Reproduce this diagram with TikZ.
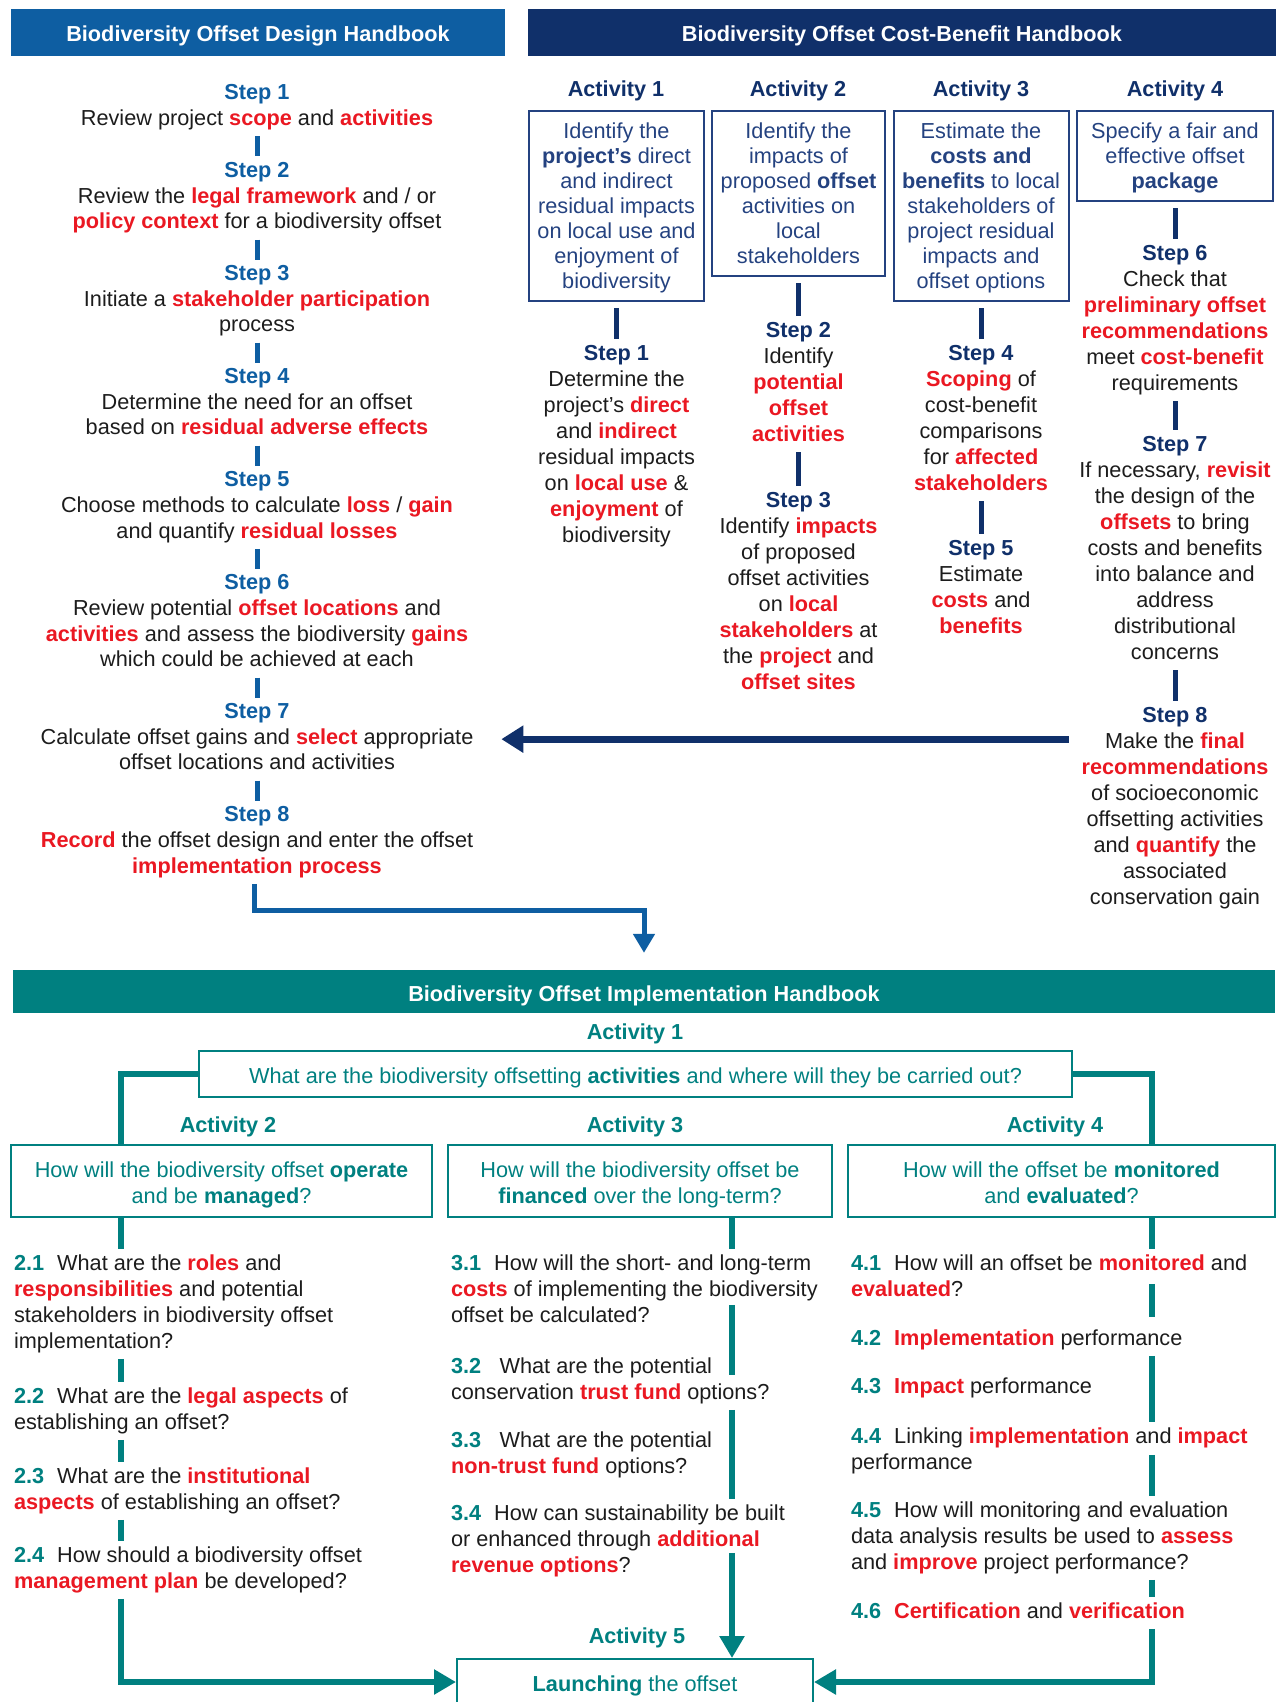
\documentclass[tikz,border=0pt]{standalone}
\usepackage{fontspec}
\setmainfont{Liberation Sans}
\usetikzlibrary{positioning,arrows.meta,calc}

\definecolor{designblue}{RGB}{14,94,162}
\definecolor{cbnavy}{RGB}{16,48,106}
\definecolor{cbtext}{RGB}{36,66,128}
\definecolor{keyred}{RGB}{234,24,34}
\definecolor{impteal}{RGB}{0,128,128}
\definecolor{ink}{RGB}{28,28,28}

\newcommand{\kw}[1]{\textcolor{keyred}{\bfseries #1}}
\newcommand{\dstep}[1]{\strut\textcolor{designblue}{\bfseries Step #1}}
\newcommand{\cstep}[1]{\strut\textcolor{cbnavy}{\bfseries Step #1}}
\newcommand{\qno}[1]{\strut\textcolor{impteal}{\bfseries #1}\hspace{0.6em}}
\newcommand{\cbtop}{\rule{0pt}{21.5pt}}
\newcommand{\impltop}{\rule{0pt}{25.8pt}}

\begin{document}
\begin{tikzpicture}[
	x=1pt, y=-1pt,
	header/.style={
		shape=rectangle,
		text=white,
		font=\bfseries\fontsize{21.7}{26}\selectfont,
		minimum height=47,
		text height=19pt,
		text depth=0pt,
		inner sep=0pt,
	},
	designstep/.style={
		align=center,
		text=ink,
		font=\fontsize{21.7}{25.7}\selectfont,
		inner sep=0pt,
		outer sep=3pt,
		execute at end node=\strut,
	},
	cblabel/.style={
		anchor=base,
		text=cbnavy,
		font=\bfseries\fontsize{21.7}{26}\selectfont,
	},
	cbbox/.style={
		shape=rectangle,
		draw=cbtext,
		line width=2pt,
		align=center,
		text=cbtext,
		font=\fontsize{21.7}{25}\selectfont,
		inner xsep=3pt,
		inner ysep=5.5pt,
		outer sep=7pt,
		anchor=north,
		execute at end node=\strut,
	},
	cbstep/.style={
		designstep,
		font=\fontsize{21.7}{26}\selectfont,
	},
	implabel/.style={
		anchor=base,
		text=impteal,
		font=\bfseries\fontsize{21.7}{26}\selectfont,
	},
	implbox/.style={
		shape=rectangle,
		draw=impteal,
		line width=2pt,
		align=center,
		text=impteal,
		font=\fontsize{21.7}{26}\selectfont,
		execute at end node=\strut,
	},
	implitem/.style={
		anchor=north west,
		align=left,
		text=ink,
		font=\fontsize{21.7}{26}\selectfont,
		inner sep=0pt,
		outer sep=3pt,
		execute at end node=\strut,
	},
	designbar/.style={designblue, line width=5pt},
	cbbar/.style={cbnavy, line width=5pt},
	implline/.style={impteal, line width=6pt},
	designarrow/.style={designblue, line width=5pt, -{Triangle[length=19pt,width=21pt]}},
	cbarrow/.style={cbnavy, line width=7pt, -{Triangle[length=22pt,width=26pt]}},
	implarrow/.style={impteal, line width=6pt, -{Triangle[length=22pt,width=24pt]}},
	node distance=20pt,
]
\useasboundingbox (0,0) rectangle (1278,1702);

% design handbook
\node (dhead) [header, fill=designblue, minimum width=494] at (258,32.5) {Biodiversity Offset Design Handbook};
\node (ds1) [designstep, anchor=north] at (257,79) {\dstep{1}\\Review project \kw{scope} and \kw{activities}};
\node (ds2) [designstep, below=of ds1] {\dstep{2}\\Review the \kw{legal framework} and / or\\\kw{policy context} for a biodiversity offset};
\node (ds3) [designstep, below=of ds2] {\dstep{3}\\Initiate a \kw{stakeholder participation}\\process};
\node (ds4) [designstep, below=of ds3] {\dstep{4}\\Determine the need for an offset\\based on \kw{residual adverse effects}};
\node (ds5) [designstep, below=of ds4] {\dstep{5}\\Choose methods to calculate \kw{loss} / \kw{gain}\\and quantify \kw{residual losses}};
\node (ds6) [designstep, below=of ds5] {\dstep{6}\\Review potential \kw{offset locations} and\\\kw{activities} and assess the biodiversity \kw{gains}\\which could be achieved at each};
\node (ds7) [designstep, below=of ds6] {\dstep{7}\\Calculate offset gains and \kw{select} appropriate\\offset locations and activities};
\node (ds8) [designstep, below=of ds7] {\dstep{8}\\\kw{Record} the offset design and enter the offset\\\kw{implementation process}};

\draw[designbar] (ds1) -- (ds2);
\draw[designbar] (ds2) -- (ds3);
\draw[designbar] (ds3) -- (ds4);
\draw[designbar] (ds4) -- (ds5);
\draw[designbar] (ds5) -- (ds6);
\draw[designbar] (ds6) -- (ds7);
\draw[designbar] (ds7) -- (ds8);

% cost-benefit handbook
\node (chead) [header, fill=cbnavy, minimum width=748] at (902,32.5) {Biodiversity Offset Cost-Benefit Handbook};
\node (cl1) [cblabel] at (616,96) {Activity 1};
\node (cl2) [cblabel] at (798,96) {Activity 2};
\node (cl3) [cblabel] at (981,96) {Activity 3};
\node (cl4) [cblabel] at (1175,96) {Activity 4};

\node (ca1) [cbbox, minimum width=175] at (616.5,104) {\cbtop Identify the\\\textbf{project's} direct\\and indirect\\residual impacts\\on local use and\\enjoyment of\\biodiversity};
\node (ca2) [cbbox, minimum width=173] at (798.5,104) {\cbtop Identify the\\impacts of\\proposed \textbf{offset}\\activities on\\local\\stakeholders};
\node (ca3) [cbbox, minimum width=175] at (981,104) {\cbtop Estimate the\\\textbf{costs and}\\\textbf{benefits} to local\\stakeholders of\\project residual\\impacts and\\offset options};
\node (ca4) [cbbox, minimum width=196] at (1175,104) {\cbtop Specify a fair and\\effective offset\\\textbf{package}};

\begin{scope}[node distance=31pt]
\node (cs1) [cbstep, below=of ca1] {\cstep{1}\\Determine the\\project's \kw{direct}\\and \kw{indirect}\\residual impacts\\on \kw{local use} \&\\\kw{enjoyment} of\\biodiversity};
\node (cs2) [cbstep, below=33pt of ca2] {\cstep{2}\\Identify\\\kw{potential}\\\kw{offset}\\\kw{activities}};
\node (cs3) [cbstep, below=34pt of cs2] {\cstep{3}\\Identify \kw{impacts}\\of proposed\\offset activities\\on \kw{local}\\\kw{stakeholders} at\\the \kw{project} and\\\kw{offset sites}};
\node (cs4) [cbstep, below=of ca3] {\cstep{4}\\\kw{Scoping} of\\cost-benefit\\comparisons\\for \kw{affected}\\\kw{stakeholders}};
\node (cs5) [cbstep, below=33pt of cs4] {\cstep{5}\\Estimate\\\kw{costs} and\\\kw{benefits}};
\node (cs6) [cbstep, below=of ca4] {\cstep{6}\\Check that\\\kw{preliminary offset}\\\kw{recommendations}\\meet \kw{cost-benefit}\\requirements};
\node (cs7) [cbstep, below=29pt of cs6] {\cstep{7}\\If necessary, \kw{revisit}\\the design of the\\\kw{offsets} to bring\\costs and benefits\\into balance and\\address\\distributional\\concerns};
\node (cs8) [cbstep, below=of cs7] {\cstep{8}\\Make the \kw{final}\\\kw{recommendations}\\of socioeconomic\\offsetting activities\\and \kw{quantify} the\\associated\\conservation gain};
\end{scope}

\draw[cbbar] (ca1) -- (cs1);
\draw[cbbar] (ca2) -- (cs2);
\draw[cbbar] (cs2) -- (cs3);
\draw[cbbar] (ca3) -- (cs4);
\draw[cbbar] (cs4) -- (cs5);
\draw[cbbar] (ca4) -- (cs6);
\draw[cbbar] (cs6) -- (cs7);
\draw[cbbar] (cs7) -- (cs8);

\draw[cbarrow, shorten >=25pt] ($(cs8.west |- ds7.east)+(-10,0)$) -- (ds7.east);

% implementation handbook
\node (ihead) [header, fill=impteal, minimum width=1262, minimum height=43] at (644,991.5) {Biodiversity Offset Implementation Handbook};
\draw[designarrow, shorten >=17pt] ($(ds8.south)+(-3,0)$) -- ++(0,27) -| (ihead.north);

\node (il1) [implabel] at (635,1039) {Activity 1};
\node (ia1) [implbox, minimum width=873, minimum height=46] at (635.5,1074) {\impltop What are the biodiversity offsetting \textbf{activities} and where will they be carried out?};
\node (il2) [implabel] at (228,1132) {Activity 2};
\node (il3) [implabel] at (635,1132) {Activity 3};
\node (il4) [implabel] at (1055,1132) {Activity 4};
\node (ia2) [implbox, minimum width=421, minimum height=72] at (221.5,1181) {\impltop How will the biodiversity offset \textbf{operate}\\and be \textbf{managed}?};
\node (ia3) [implbox, minimum width=384, minimum height=72] at (640,1181) {\impltop How will the biodiversity offset be\\\textbf{financed} over the long-term?};
\node (ia4) [implbox, minimum width=427, minimum height=72] at (1061.5,1181) {\impltop How will the offset be \textbf{monitored}\\and \textbf{evaluated}?};

\node (i21) [implitem] at (11,1248.8) {\qno{2.1}What are the \kw{roles} and\\\kw{responsibilities} and potential\\stakeholders in biodiversity offset\\implementation?};
\node (i22) [implitem] at (11,1381.8) {\qno{2.2}What are the \kw{legal aspects} of\\establishing an offset?};
\node (i23) [implitem] at (11,1461.8) {\qno{2.3}What are the \kw{institutional}\\\kw{aspects} of establishing an offset?};
\node (i24) [implitem] at (11,1540.8) {\qno{2.4}How should a biodiversity offset\\\kw{management plan} be developed?};

\node (i31) [implitem] at (448,1248.8) {\qno{3.1}How will the short- and long-term\\\kw{costs} of implementing the biodiversity\\offset be calculated?};
\node (i32) [implitem] at (448,1351.8) {\qno{3.2}\hspace{0.25em}What are the potential\\conservation \kw{trust fund} options?};
\node (i33) [implitem] at (448,1425.8) {\qno{3.3}\hspace{0.25em}What are the potential\\\kw{non-trust fund} options?};
\node (i34) [implitem] at (448,1498.8) {\qno{3.4}How can sustainability be built\\or enhanced through \kw{additional}\\\kw{revenue options}?};

\node (i41) [implitem] at (848,1248.8) {\qno{4.1}How will an offset be \kw{monitored} and\\\kw{evaluated}?};
\node (i42) [implitem] at (848,1323.8) {\qno{4.2}\kw{Implementation} performance};
\node (i43) [implitem] at (848,1371.8) {\qno{4.3}\kw{Impact} performance};
\node (i44) [implitem] at (848,1421.8) {\qno{4.4}Linking \kw{implementation} and \kw{impact}\\performance};
\node (i45) [implitem] at (848,1495.8) {\qno{4.5}How will monitoring and evaluation\\data analysis results be used to \kw{assess}\\and \kw{improve} project performance?};
\node (i46) [implitem] at (848,1596.8) {\qno{4.6}\kw{Certification} and \kw{verification}};

\node (il5) [implabel] at (637,1643) {Activity 5};
\node (launch) [implbox, minimum width=356, minimum height=46] at (635,1682) {\impltop\textbf{Launching} the offset};

\coordinate (sp2) at (121,0);
\coordinate (sp3) at (732,0);
\coordinate (sp4) at (1152,0);

\draw[implline] (ia1.west) -| (ia2.north -| sp2);
\draw[implline] (ia1.east) -| (ia4.north -| sp4);

\draw[implline] (ia2.south -| sp2) -- (i21.north -| sp2);
\draw[implline] (i21.south -| sp2) -- (i22.north -| sp2);
\draw[implline] (i22.south -| sp2) -- (i23.north -| sp2);
\draw[implline] (i23.south -| sp2) -- (i24.north -| sp2);
\draw[implarrow] (i24.south -| sp2) |- (launch.west);

\draw[implline] (ia3.south -| sp3) -- (i31.north -| sp3);
\draw[implline] ($(i31.north -| sp3)+(0,56)$) -- ($(i32.north -| sp3)+(0,23)$);
\draw[implline] (i32.south -| sp3) -- (i34.north -| sp3);
\draw[implarrow] ($(i34.north -| sp3)+(0,54)$) -- (launch.north -| sp3);

\draw[implline] (ia4.south -| sp4) -- (i41.north -| sp4);
\draw[implline] ($(i41.north -| sp4)+(0,35)$) -- ($(i42.north -| sp4)+(0,-7)$);
\draw[implline] (i42.south -| sp4) -- (i44.north -| sp4);
\draw[implline] ($(i44.north -| sp4)+(0,33)$) -- (i45.north -| sp4);
\draw[implline] (i45.south -| sp4) -- (i46.north -| sp4);
\draw[implarrow] (i46.south -| sp4) |- (launch.east);
\end{tikzpicture}
\end{document}
